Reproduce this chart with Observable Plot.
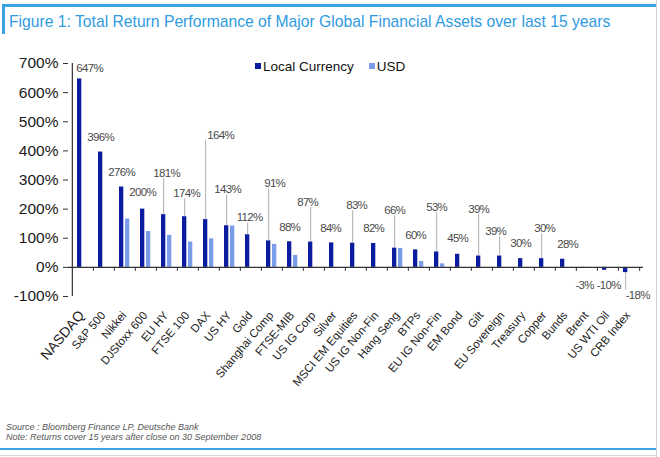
<!DOCTYPE html>
<html>
<head>
<meta charset="utf-8">
<script src="https://cdn.jsdelivr.net/npm/d3@7"></script>
<script src="https://cdn.jsdelivr.net/npm/@observablehq/plot@0.6"></script>
<style>
  html, body { margin: 0; padding: 0; background: #fff; }
  #wrap { position: relative; width: 660px; height: 457px; overflow: hidden; background: #fff; font-family: "Liberation Sans", Arial, sans-serif; }
  #topline { position: absolute; left: 2px; top: 4px; width: 654px; height: 3px; background: #3da2e2; }
  #leftbar { position: absolute; left: 2px; top: 5px; width: 3px; height: 29px; background: #3da2e2; }
  #rightline { position: absolute; left: 656px; top: 0; width: 1px; height: 457px; background: #d0d0d0; }
  #title { position: absolute; left: 9px; top: 13px; font-size: 15.7px; color: #2f9be0; white-space: nowrap; }
  #chart { position: absolute; left: 0; top: 40px; }
  #legend { position: absolute; left: 255px; top: 59px; font-size: 13.5px; color: #111; white-space: nowrap; }
  #legend span.sw { display: inline-block; width: 6px; height: 6px; margin-right: 2px; vertical-align: 2px; }
  #caption { position: absolute; left: 6px; top: 422px; font-size: 9px; font-style: italic; color: #555; line-height: 10px; }
  #botline { position: absolute; left: 0; top: 448px; width: 656px; height: 2px; background: #3da2e2; }
  #botgray { position: absolute; left: 0; top: 455px; width: 656px; height: 1px; background: #d8d8d8; }
  .vlabel text { letter-spacing: -0.7px; }
</style>
</head>
<body>
<div id="wrap">
  <div id="topline"></div>
  <div id="leftbar"></div>
  <div id="rightline"></div>
  <div id="title">Figure 1: Total Return Performance of Major Global Financial Assets over last 15 years</div>
  <div id="chart"></div>
  <div id="legend"><span class="sw" style="background:#0c1c9e"></span>Local Currency&nbsp;&nbsp;&nbsp;&nbsp;<span class="sw" style="background:#7b9ce9"></span>USD</div>
  <div id="caption">Source : Bloomberg Finance LP, Deutsche Bank<br>Note: Returns cover 15 years after close on 30 September 2008</div>
  <div id="botline"></div>
  <div id="botgray"></div>
</div>
<script>
const categories = ["NASDAQ", "S&P 500", "Nikkei", "DJStoxx 600", "EU HY", "FTSE 100", "DAX", "US HY", "Gold",
  "Shanghai Comp", "FTSE-MIB", "US IG Corp", "Silver", "MSCI EM Equities", "US IG Non-Fin", "Hang Seng", "BTPs",
  "EU IG Non-Fin", "EM Bond", "Gilt", "EU Sovereign", "Treasury", "Copper", "Bunds", "Brent", "US WTI Oil", "CRB Index"];
const localCurrency = [647, 396, 276, 200, 181, 174, 164, 143, 112, 91, 88, 87, 84, 83, 82, 66, 60, 53, 45, 39, 39, 30, 30, 28, -3, -10, -18];
const usd = [null, null, 166, 123, 110, 87, 98, 142, null, 79, 41, null, null, null, null, 65, 20, 12, null, null, null, null, null, null, null, null, null];
const yTicks = [-100, 0, 100, 200, 300, 400, 500, 600, 700];
// label placement: height (in % units), sideways nudge (px), and whether a leader line joins label and bar
const labelAt = [682, 445, 325, 257, 322, 253, 455, 267, 171, 288, 137, 223, 133, 212, 133, 195, 110, 206, 99, 199, 123, 82, 133, 79, -62, -62, -96];
const labelNudge = [10, 0, 0, 0, 3, 2, 15, 1, 2, 6, 0, -3, -1, 4, 0, 0, 0, 0, 0, 0, -4, 0, 3, 5, 1, 4, 12];
const hasLeader = [0,0,0,0,1,1,1,1,1,1,0,1,0,1,0,1,0,1,0,1,1,0,1,0,0,0,1];

const rows = categories.map((c, i) => ({cat: c, local: localCurrency[i], usd: usd[i], lab: labelAt[i], nudge: labelNudge[i], leader: !!hasLeader[i]}));
const usdRows = rows.filter(d => d.usd != null);
const leaderRows = rows.filter(d => d.leader);

const DARK = "#0c1c9e", LIGHT = "#7b9ce9";
const W = 660, H = 370, ML = 68, MR = 17;
const step = (W - ML - MR) / categories.length;
const barMid = 7.3 - step / 2; // local bar centre relative to band centre

const chart = Plot.plot({
  width: W, height: H,
  marginLeft: ML, marginRight: MR, marginTop: 23, marginBottom: 114,
  style: {fontFamily: "'Liberation Sans', Arial, sans-serif", color: "#222", background: "transparent"},
  x: {domain: categories, padding: 0, axis: null},
  y: {domain: [-100, 700], axis: null},
  marks: [
    Plot.barY(rows, {x: "cat", y: "local", fill: DARK, insetLeft: 5, insetRight: step - 9.6}),
    Plot.barY(usdRows, {x: "cat", y: "usd", fill: LIGHT, insetLeft: 11, insetRight: step - 15.6}),
    Plot.ruleY([0], {stroke: "#333", strokeWidth: 1.2}),
    Plot.ruleX([categories[0]], {x: d => d, y1: -100, y2: 700, dx: -step / 2, stroke: "#333", strokeWidth: 1.2}),
    Plot.ruleX(categories.slice(1), {x: d => d, y1: 0, y2: 0, insetBottom: -4, dx: -step / 2, stroke: "#333"}),
    Plot.ruleX([categories[categories.length - 1]], {x: d => d, y1: 0, y2: 0, insetBottom: -4, dx: step / 2, stroke: "#333"}),
    Plot.ruleX(leaderRows, {x: "cat", y1: "local", y2: d => d.lab > d.local ? d.lab - 18 : d.lab + 18, dx: barMid, stroke: "#9a9a9a", strokeWidth: 0.8}),
    ...rows.map(d => Plot.text([d], {x: "cat", y: "lab", text: r => r.local + "%", dx: barMid + d.nudge, fill: "#4a4a4a", fontSize: 11.5, className: "vlabel"})),
    Plot.axisY(yTicks, {tickFormat: d => d + "%", tickSize: 5, tickPadding: 5, fontSize: 15.5, label: null, stroke: "#333", fill: "#1a1a1a"}),
    Plot.text(categories, {x: d => d, frameAnchor: "bottom", rotate: -50, textAnchor: "end", dx: 2, dy: 19,
      fontSize: d => d === "NASDAQ" ? 14 : 11.5, fill: "#222"})
  ]
});
document.getElementById("chart").appendChild(chart);
</script>
</body>
</html>
